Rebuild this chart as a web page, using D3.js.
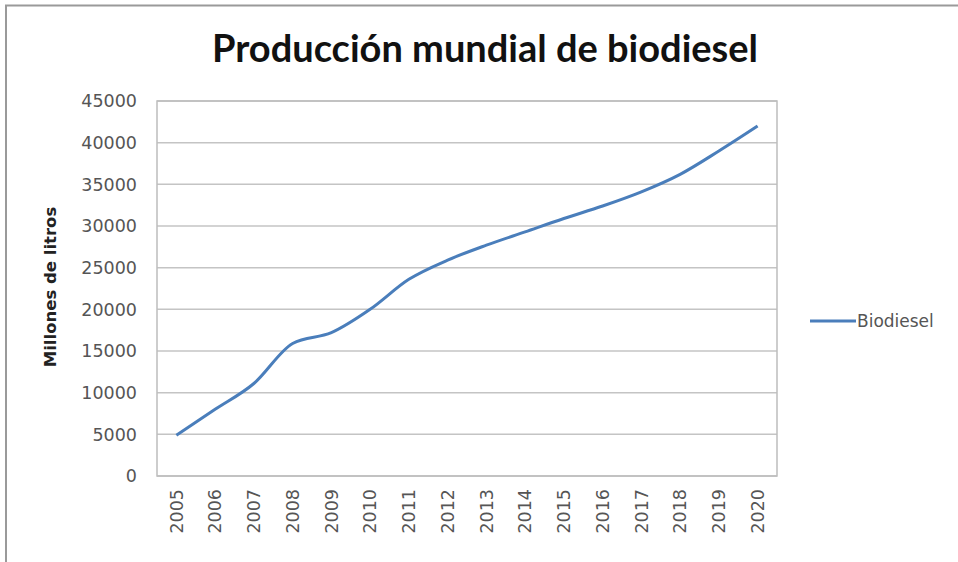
<!DOCTYPE html>
<html>
<head>
<meta charset="utf-8">
<script src="https://cdn.jsdelivr.net/npm/d3@7"></script>
<style>
  body { margin: 0; background: #fff; }
</style>
</head>
<body>
<script>
// data
var years = ["2005", "2006", "2007", "2008", "2009", "2010", "2011", "2012",
    "2013", "2014", "2015", "2016", "2017", "2018", "2019", "2020"];
var biodiesel = [4900, 8000, 11100, 15900, 17200, 20000, 23600, 25900,
    27700, 29300, 30900, 32400, 34100, 36200, 39000, 42000];
var yTicks = [0, 5000, 10000, 15000, 20000, 25000, 30000, 35000, 40000, 45000];

var w = 958;
var h = 562;
var titleFont = "Lato, 'Open Sans', sans-serif";
var tickFont = "'DejaVu Sans', sans-serif";

var svg = d3.select("body")
    .append("svg")
    .attr("width", w)
    .attr("height", h);

// outer chart frame (bottom and right run off the picture)
svg.append("rect")
    .attr("x", 6)
    .attr("y", 5.5)
    .attr("width", w + 20)
    .attr("height", h + 20)
    .attr("fill", "#fff")
    .attr("stroke", "#9a9a9a")
    .attr("stroke-width", 2);

// plot area bounds
var pLeft = 157, pRight = 777, pTop = 101, pBottom = 476;

var xScale = d3.scaleBand()
    .domain(years)
    .range([pLeft, pRight]);

var yScale = d3.scaleLinear()
    .domain([0, 45000])
    .range([pBottom, pTop]);

// gridlines
svg.append("g")
    .selectAll("line")
    .data(yTicks)
    .enter()
    .append("line")
    .attr("x1", pLeft)
    .attr("x2", pRight)
    .attr("y1", d => yScale(d))
    .attr("y2", d => yScale(d))
    .attr("stroke", "#c4c4c4")
    .attr("stroke-width", 1.5);

// plot border
svg.append("rect")
    .attr("x", pLeft)
    .attr("y", pTop)
    .attr("width", pRight - pLeft)
    .attr("height", pBottom - pTop)
    .attr("fill", "none")
    .attr("stroke", "#bdbdbd")
    .attr("stroke-width", 1.5);

// y tick labels
svg.append("g")
    .selectAll("text")
    .data(yTicks)
    .enter()
    .append("text")
    .text(d => d)
    .attr("x", 137)
    .attr("y", d => yScale(d))
    .attr("dy", "0.36em")
    .attr("text-anchor", "end")
    .attr("font-family", tickFont)
    .attr("font-size", "17.5px")
    .attr("fill", "#555");

// x tick labels, rotated
svg.append("g")
    .selectAll("text")
    .data(years)
    .enter()
    .append("text")
    .text(d => d)
    .attr("transform", d => "translate(" + (xScale(d) + xScale.bandwidth() / 2) + "," + 489 + ") rotate(-90)")
    .attr("dy", "0.36em")
    .attr("text-anchor", "end")
    .attr("font-family", tickFont)
    .attr("font-size", "17.5px")
    .attr("fill", "#555");

// the line
var line = d3.line()
    .x((d, i) => xScale(years[i]) + xScale.bandwidth() / 2)
    .y(d => yScale(d))
    .curve(d3.curveMonotoneX);

svg.append("path")
    .datum(biodiesel)
    .attr("d", line)
    .attr("fill", "none")
    .attr("stroke", "#4a7ebb")
    .attr("stroke-width", 3)
    .attr("stroke-linejoin", "round");

// title
svg.append("text")
    .text("Producción mundial de biodiesel")
    .attr("x", 485)
    .attr("y", 62)
    .attr("text-anchor", "middle")
    .attr("font-family", titleFont)
    .attr("font-weight", "bold")
    .attr("font-size", "38px")
    .attr("fill", "#111");

// y axis title
svg.append("text")
    .text("Millones de litros")
    .attr("transform", "translate(50,287) rotate(-90)")
    .attr("dy", "0.35em")
    .attr("text-anchor", "middle")
    .attr("font-family", tickFont)
    .attr("font-weight", "bold")
    .attr("font-size", "16.5px")
    .attr("fill", "#222");

// legend
svg.append("line")
    .attr("x1", 810)
    .attr("x2", 856)
    .attr("y1", 321)
    .attr("y2", 321)
    .attr("stroke", "#4a7ebb")
    .attr("stroke-width", 3);

svg.append("text")
    .text("Biodiesel")
    .attr("x", 857)
    .attr("y", 321)
    .attr("dy", "0.36em")
    .attr("font-family", tickFont)
    .attr("font-size", "17px")
    .attr("fill", "#555");
</script>
</body>
</html>
